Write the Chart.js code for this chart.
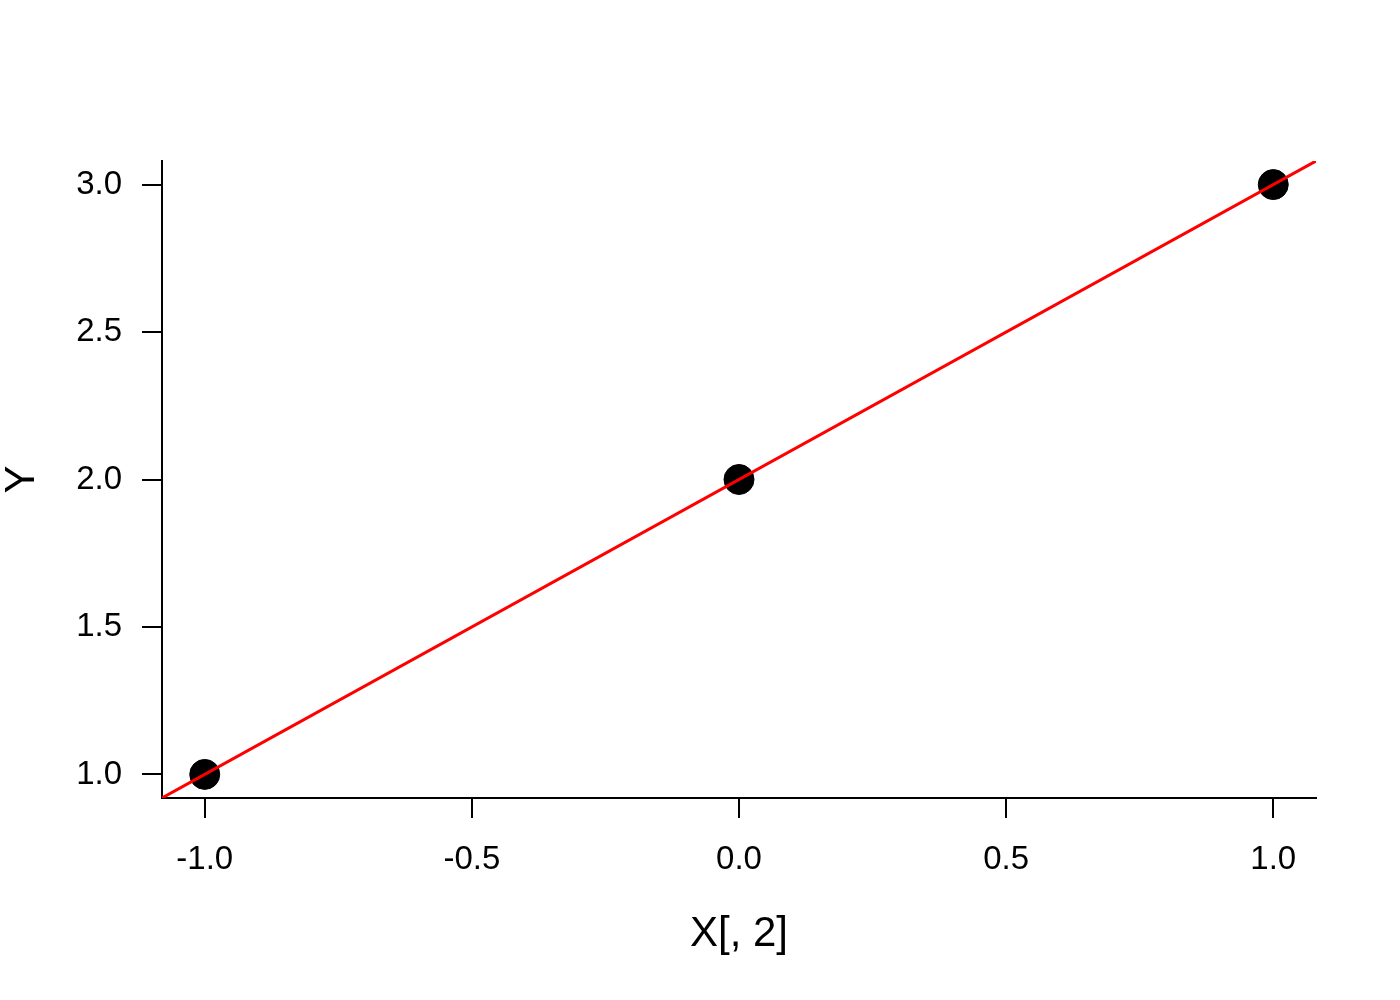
<!DOCTYPE html>
<html>
<head>
<meta charset="utf-8">
<script src="https://cdn.jsdelivr.net/npm/chart.js@4.4.0/dist/chart.umd.min.js"></script>
<style>
  html, body { margin: 0; padding: 0; background: #fff; }
  #wrap { width: 1400px; height: 1000px; }
</style>
</head>
<body>
<div id="wrap"><canvas id="myChart" width="1400" height="1000"></canvas></div>
<script>
// observed points
const xValues = [-1, 0, 1];
const yValues = [1, 2, 3];

// fitted line (abline) and axis settings
const fitIntercept = 2;
const fitSlope = 1;
const xLimits = [-1.08, 1.08];
const yLimits = [0.92, 3.08];
const xTicks = [-1.0, -0.5, 0.0, 0.5, 1.0];
const yTicks = [1.0, 1.5, 2.0, 2.5, 3.0];

const points = xValues.map((x, i) => ({x: x, y: yValues[i]}));
const fitLine = xLimits.map(x => ({x: x, y: fitIntercept + fitSlope * x}));

const tickFont = {family: 'Arial, "Liberation Sans", sans-serif', size: 33};
const titleFont = {family: 'Arial, "Liberation Sans", sans-serif', size: 42};

const ctx = document.getElementById('myChart');
new Chart(ctx, {
    type: 'scatter',
    data: {
        datasets: [
            {
                data: points,
                backgroundColor: '#000',
                borderColor: '#000',
                pointRadius: 15,
                borderWidth: 1,
                order: 2
            },
            {
                type: 'line',
                data: fitLine,
                borderColor: '#ff0000',
                borderWidth: 3,
                pointRadius: 0,
                fill: false,
                order: 1
            }
        ]
    },
    options: {
        responsive: false,
        animation: false,
        layout: {padding: {top: 161, right: 84, left: 0, bottom: 0}},
        plugins: {legend: {display: false}, tooltip: {enabled: false}},
        scales: {
            x: {
                type: 'linear',
                min: xLimits[0],
                max: xLimits[1],
                afterBuildTicks: scale => { scale.ticks = xTicks.map(v => ({value: v})); },
                afterFit: scale => { scale.height = 202; },
                border: {display: true, color: '#000', width: 2},
                grid: {drawOnChartArea: false, color: '#000', lineWidth: 2, tickLength: 20},
                ticks: {color: '#000', font: tickFont, padding: 22, maxRotation: 0,
                    callback: v => v.toFixed(1)},
                title: {display: true, text: 'X[, 2]', color: '#000', font: titleFont,
                    padding: {top: 0, bottom: 40}}
            },
            y: {
                type: 'linear',
                min: yLimits[0],
                max: yLimits[1],
                afterBuildTicks: scale => { scale.ticks = yTicks.map(v => ({value: v})); },
                afterFit: scale => { scale.width = 162; },
                border: {display: true, color: '#000', width: 2},
                grid: {drawOnChartArea: false, color: '#000', lineWidth: 2, tickLength: 20},
                ticks: {color: '#000', font: tickFont, padding: 20,
                    callback: v => v.toFixed(1)},
                title: {display: true, text: 'Y', color: '#000', font: titleFont,
                    padding: {top: -3, bottom: 0}}
            }
        }
    }
});
</script>
</body>
</html>
